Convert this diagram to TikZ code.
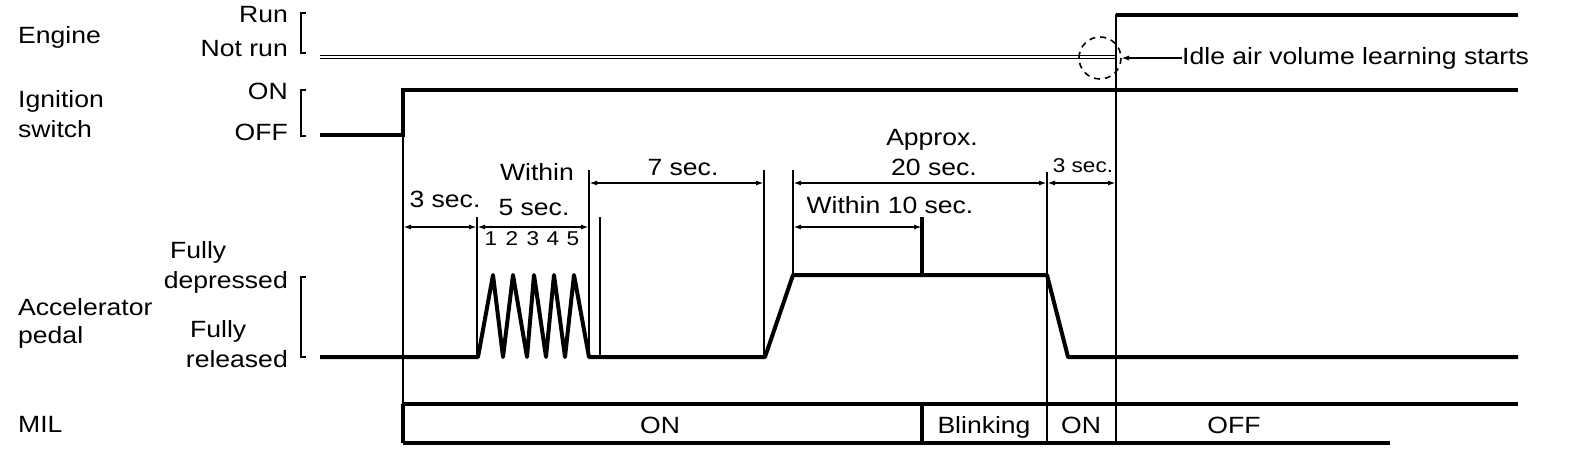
\documentclass[tikz,border=0pt]{standalone}
\usepackage{fontspec}
\setmainfont{Liberation Sans}[FakeStretch=1.13]
\usetikzlibrary{arrows.meta}
\begin{document}
\begin{tikzpicture}[x=1pt,y=-1pt,
  lbl/.style={font=\fontsize{23.5}{26}\selectfont, inner sep=0pt},
  small/.style={font=\fontsize{20}{22}\selectfont, inner sep=0pt},
  sig/.style={line width=4.5pt, line join=miter},
  vline/.style={line width=2.8pt},
  thick vline/.style={line width=4pt},
  dim/.style={line width=2pt, {Latex[length=8pt,width=5pt]}-{Latex[length=8pt,width=5pt]}},
  brk/.style={line width=1.8pt}]
\useasboundingbox[fill=white] (0,0) rectangle (1584,468);

% left labels
\node[lbl,anchor=base west] (eng) at (18,44) {Engine};
\node[lbl,anchor=base west] (ign1) at (18,108) {Ignition};
\node[lbl,anchor=base west] (ign2) at (18,138) {switch};
\node[lbl,anchor=base west] (acc1) at (18,315) {Accelerator};
\node[lbl,anchor=base west] (acc2) at (18,343) {pedal};
\node[lbl,anchor=base west] (mil) at (18,432) {MIL};

% state labels
\node[lbl,anchor=base east] (run) at (288,23) {Run};
\node[lbl,anchor=base east] (notrun) at (288,57) {Not run};
\node[lbl,anchor=base east] (on) at (288,100) {ON};
\node[lbl,anchor=base east] (off) at (288,140) {OFF};
\node[lbl,anchor=base west] (fully1) at (170,258) {Fully};
\node[lbl,anchor=base east] (depr) at (288,288) {depressed};
\node[lbl,anchor=base west] (fully2) at (190,337) {Fully};
\node[lbl,anchor=base east] (rel) at (288,367) {released};

% brackets
\draw[brk] (306,13) -- (301,13) -- (301,53) -- (306,53);
\draw[brk] (306,90) -- (301,90) -- (301,136) -- (306,136);
\draw[brk] (306,277) -- (301,277) -- (301,357) -- (306,357);

% engine
\draw[double, double distance=2pt, line width=1.3pt] (320,57) -- (1116,57);
\draw[sig] (1116,15) -- (1518,15);
\draw[line width=1.6pt, dash pattern=on 6pt off 5pt] (1100,58) circle (21);
\node[lbl,anchor=west] (idle) at (1182,58) {Idle air volume learning starts};
\coordinate (idletip) at (1121,58);
\draw[line width=1.6pt, -{Latex[length=8pt,width=5pt]}] (idle.west) -- (idletip);

% ignition
\draw[sig] (320,135) -- (403,135) -- (403,90) -- (1518,90);

% vertical marker lines
\draw[vline] (403,90) -- (403,443);
\draw[vline] (477,217) -- (477,357);
\draw[vline] (589,170) -- (589,357);
\draw[vline] (600,217) -- (600,357);
\draw[vline] (764,170) -- (764,357);
\draw[vline] (793,170) -- (793,275);
\draw[thick vline] (922,217) -- (922,275);
\draw[vline] (1047,172) -- (1047,443);
\draw[vline] (1116,14) -- (1116,443);

% dimension arrows
\draw[dim] (403,227) -- (477,227);
\draw[dim] (477,227) -- (589,227);
\draw[dim] (589,183) -- (764,183);
\draw[dim] (793,183) -- (1047,183);
\draw[dim] (1047,183) -- (1116,183);
\draw[dim] (793,227) -- (922,227);

% timing labels
\node[lbl,anchor=base] (t3) at (445,207) {3 sec.};
\node[lbl,anchor=base] (w5a) at (537,180) {Within};
\node[lbl,anchor=base] (w5b) at (534,215) {5 sec.};
\node[lbl,anchor=base] (t7) at (683,175) {7 sec.};
\node[lbl,anchor=base] (apx) at (932,146) {Approx.};
\node[lbl,anchor=base] (t20) at (934,175) {20 sec.};
\node[lbl,anchor=base] (w10) at (890,213) {Within 10 sec.};
\node[small,anchor=base] (t3b) at (1083,172) {3 sec.};
\foreach \x/\n in {491/1,512/2,533/3,553/4,573/5}
  \node[small,anchor=base] (d\n) at (\x,245) {\n};

% accelerator pedal waveform
\draw[line width=4pt, line join=round] (320,357) -- (478,357) -- (493,275) -- (503,357) -- (513,275) -- (527,357)
  -- (534,275) -- (546,357) -- (554,275) -- (565,357) -- (574,275) -- (589,357)
  -- (765,357) -- (793,275) -- (1047,275) -- (1068,357) -- (1518,357);

% MIL
\draw[line width=4pt] (403,404) -- (1518,404);
\draw[line width=4pt] (403,443) -- (1390,443);
\draw[line width=4pt] (403,404) -- (403,443);
\draw[line width=4pt] (922,404) -- (922,443);
\draw[vline] (1047,404) -- (1047,443);
\draw[vline] (1116,404) -- (1116,443);
\node[lbl,anchor=base] (mon) at (660,433) {ON};
\node[lbl,anchor=base] (mblink) at (984,433) {Blinking};
\node[lbl,anchor=base] (mon2) at (1081,433) {ON};
\node[lbl,anchor=base] (moff) at (1234,433) {OFF};
\end{tikzpicture}
\end{document}
